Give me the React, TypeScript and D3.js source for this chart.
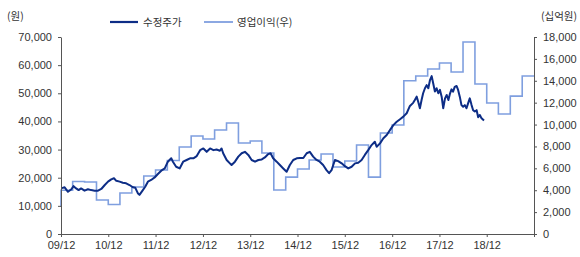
import React, { useEffect, useRef } from "react";
import * as d3 from "d3";

const PRICE_DATES = [
  "2009-12-08","2009-12-29","2010-01-24","2010-02-19","2010-03-08","2010-03-28","2010-04-16","2010-05-05","2010-06-01","2010-06-27",
  "2010-07-22","2010-08-18","2010-09-13","2010-10-08","2010-11-04","2010-11-29","2010-12-24","2011-01-14","2011-02-01","2011-02-27",
  "2011-03-23","2011-04-18","2011-05-14","2011-06-09","2011-06-28","2011-07-17","2011-07-30","2011-08-25","2011-09-12","2011-10-03",
  "2011-10-28","2011-11-24","2011-12-19","2012-01-14","2012-02-10","2012-03-05","2012-03-31","2012-04-13","2012-05-08","2012-06-04",
  "2012-07-01","2012-07-28","2012-08-23","2012-09-18","2012-10-14","2012-11-09","2012-12-04","2012-12-30","2013-01-25","2013-02-20",
  "2013-03-16","2013-04-11","2013-04-24","2013-05-06","2013-06-02","2013-06-27","2013-07-10","2013-08-05","2013-08-31","2013-09-26",
  "2013-10-21","2013-11-16","2013-12-12","2014-01-07","2014-02-02","2014-02-28","2014-03-24","2014-04-19","2014-05-07","2014-05-27",
  "2014-06-23","2014-07-18","2014-08-13","2014-09-08","2014-10-03","2014-10-29","2014-11-25","2014-12-20","2015-01-15","2015-02-10",
  "2015-03-06","2015-04-01","2015-04-27","2015-05-22","2015-06-17","2015-07-13","2015-08-02","2015-08-21","2015-09-16","2015-10-11",
  "2015-11-07","2015-12-02","2015-12-28","2016-01-23","2016-02-18","2016-03-14","2016-04-09","2016-05-04","2016-05-30","2016-06-25",
  "2016-07-20","2016-08-03","2016-08-29","2016-09-24","2016-10-20","2016-11-15","2016-12-10","2017-01-05","2017-01-31","2017-02-25",
  "2017-03-23","2017-04-17","2017-05-12","2017-05-25","2017-06-08","2017-06-20","2017-07-03","2017-07-16","2017-07-28","2017-08-11",
  "2017-08-24","2017-09-06","2017-09-19","2017-10-02","2017-10-14","2017-10-27","2017-11-09","2017-11-22","2017-12-05","2017-12-18",
  "2017-12-30","2018-01-13","2018-01-26","2018-02-08","2018-02-21","2018-03-04","2018-03-16","2018-03-29","2018-04-12","2018-04-24",
  "2018-05-07","2018-05-20","2018-06-02","2018-06-15","2018-06-28","2018-07-10","2018-07-23","2018-08-06","2018-08-18","2018-08-31",
  "2018-09-14","2018-09-26","2018-10-09","2018-10-22","2018-11-10"
];
const PRICE_VALUES = [
  16300,16600,15000,15900,17000,16200,15600,16200,15400,15900,
  15600,15400,15400,16000,17400,18600,19400,19800,18900,18600,
  18200,18000,17400,16600,16400,14500,13900,15600,16800,18600,
  19200,20100,21300,22500,23300,25700,26900,25700,23900,23300,
  25700,26300,26900,26900,27700,29800,30400,29200,30400,29800,
  30000,29600,30400,28700,26300,25100,24500,25700,27500,28700,
  29200,28100,26300,25700,26300,26500,27200,28400,28700,26900,
  25700,24500,23300,22100,24500,26300,26900,27000,27000,28700,
  29200,27500,26300,25700,24500,22700,21600,22700,26300,25900,
  25100,24100,23300,23900,25100,25300,26300,28100,29800,31600,
  32800,31000,32200,34000,35200,37000,38700,39900,40800,41700,
  42900,45500,46600,47600,48800,47000,44700,47600,50000,51800,
  52900,51800,54700,56100,53500,50600,51800,50000,51200,48800,
  44700,48200,49400,47600,50000,51400,50600,52300,52600,51200,
  48800,45800,45200,45800,44700,46400,48200,45800,44000,43500,
  44000,41500,42300,41100,40300
];

const OP_QUARTERS = [
  "2009-12","2010-03","2010-06","2010-09","2010-12","2011-03","2011-06","2011-09","2011-12",
  "2012-03","2012-06","2012-09","2012-12","2013-03","2013-06","2013-09","2013-12",
  "2014-03","2014-06","2014-09","2014-12","2015-03","2015-06","2015-09","2015-12",
  "2016-03","2016-06","2016-09","2016-12","2017-03","2017-06","2017-09","2017-12",
  "2018-03","2018-06","2018-09","2018-12","2019-03","2019-06","2019-09","2019-12"
];
const OP_VALUES = [
  2500,4000,4800,4750,3100,2700,3750,4300,5300,
  5850,6720,7950,8950,8680,9500,10140,8310,
  8500,7400,4020,5200,5940,6760,7310,6120,
  6670,8130,5200,9230,9960,14000,14440,15080,
  15620,14800,17540,13700,11970,10960,12600,14440
];

const LEFT_TICKS = [0,10000,20000,30000,40000,50000,60000,70000];
const RIGHT_TICKS = [0,2000,4000,6000,8000,10000,12000,14000,16000,18000];
const X_TICK_YEARS = [2009,2010,2011,2012,2013,2014,2015,2016,2017,2018,2019];
const X_LABEL_YEARS = [2009,2010,2011,2012,2013,2014,2015,2016,2017,2018];

const SERIES_PRICE = "수정주가";
const SERIES_OP = "영업이익(우)";

const W = 580, H = 257;
const L = 61, R = 534, T = 37, B = 234;
const DARK = "#0d2d86";
const LIGHT = "#7f9fdf";
const AXIS = "#555";
const FONT = "'Liberation Sans', Arial, sans-serif";
const KFONT = "'Noto Sans CJK KR', 'Noto Sans', sans-serif";

export default function App() {
  const gL = useRef<SVGGElement>(null);
  const gR = useRef<SVGGElement>(null);
  const gX = useRef<SVGGElement>(null);

  const parseDay = d3.timeParse("%Y-%m-%d");
  const parseMonth = d3.timeParse("%Y-%m");
  const x = d3.scaleTime().domain([new Date(2009, 11, 1), new Date(2019, 11, 1)]).range([L, R]);
  const yL = d3.scaleLinear().domain([0, 70000]).range([B, T]);
  const yR = d3.scaleLinear().domain([0, 18000]).range([B, T]);

  const price = PRICE_DATES.map((d, i) => ({ d: parseDay(d) as Date, v: PRICE_VALUES[i] }));
  const op = OP_QUARTERS.map((d, i) => ({ d: parseMonth(d) as Date, v: OP_VALUES[i] }));

  const priceLine = d3.line<{ d: Date; v: number }>().x((p) => x(p.d)).y((p) => yL(p.v));
  const opLine = d3.line<{ d: Date; v: number }>().x((p) => x(p.d)).y((p) => yR(p.v)).curve(d3.curveStepBefore);

  useEffect(() => {
    const style = (g: d3.Selection<SVGGElement, unknown, null, undefined>) => {
      g.selectAll("path.domain").attr("stroke", AXIS);
      g.selectAll(".tick line").attr("stroke", AXIS);
      g.selectAll(".tick text").attr("fill", "#333").style("font-family", FONT).style("font-size", "11px");
    };
    const left = d3.select(gL.current!);
    left.call(d3.axisLeft(yL).tickValues(LEFT_TICKS).tickSize(3).tickSizeOuter(0).tickPadding(6).tickFormat(d3.format(",") as any));
    style(left);
    const right = d3.select(gR.current!);
    right.call(d3.axisRight(yR).tickValues(RIGHT_TICKS).tickSize(3).tickSizeOuter(0).tickPadding(6).tickFormat(d3.format(",") as any));
    style(right);
    const bottom = d3.select(gX.current!);
    const fmt = d3.timeFormat("%y/%m");
    bottom.call(
      d3.axisBottom(x)
        .tickValues(X_TICK_YEARS.map((y) => new Date(y, 11, 1)))
        .tickSize(3)
        .tickSizeOuter(0)
        .tickPadding(4)
        .tickFormat((d: any) => (X_LABEL_YEARS.includes((d as Date).getFullYear()) ? fmt(d as Date) : "")) as any
    );
    style(bottom);
  }, []);

  return (
    <svg width={W} height={H} style={{ position: "absolute", left: 0, top: 0, background: "#fff" }}>
      <rect x={0} y={0} width={W} height={H} fill="#fff" />
      <path d={opLine(op) || ""} fill="none" stroke={LIGHT} strokeWidth={1.6} />
      <path d={priceLine(price) || ""} fill="none" stroke={DARK} strokeWidth={2} strokeLinejoin="round" />
      <g ref={gL} transform={`translate(${L},0)`} />
      <g ref={gR} transform={`translate(${R},0)`} />
      <g ref={gX} transform={`translate(0,${B})`} />
      <text x={7} y={20} fontFamily={KFONT} fontSize={10.5} fill="#333">(원)</text>
      <text x={577} y={20} textAnchor="end" fontFamily={KFONT} fontSize={10.5} fill="#333">(십억원)</text>
      <line x1={110} x2={138} y1={22} y2={22} stroke={DARK} strokeWidth={2.2} />
      <text x={143} y={26} fontFamily={KFONT} fontSize={10.5} fill="#333">{SERIES_PRICE}</text>
      <line x1={204} x2={233} y1={22} y2={22} stroke={LIGHT} strokeWidth={1.8} />
      <text x={237} y={26} fontFamily={KFONT} fontSize={10.5} fill="#333">{SERIES_OP}</text>
    </svg>
  );
}
